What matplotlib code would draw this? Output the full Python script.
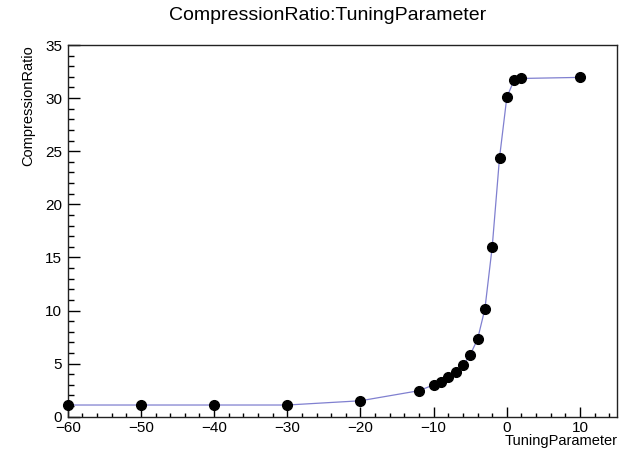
import matplotlib

matplotlib.use("Agg")
import matplotlib.pyplot as plt
from matplotlib.ticker import MultipleLocator

plt.rcParams["font.family"] = ["Liberation Sans", "DejaVu Sans"]

# values
tuning = [-60, -50, -40, -30, -20, -12, -10, -9, -8, -7, -6, -5, -4, -3, -2, -1, 0, 1, 2, 10]
ratio = [1.1, 1.1, 1.1, 1.1, 1.5, 2.45, 3.0, 3.3, 3.7, 4.25, 4.85, 5.85, 7.3, 10.15,
         16.0, 24.4, 30.1, 31.7, 31.85, 31.95]

fig = plt.figure(figsize=(6.21, 4.5), dpi=100)
ax = fig.add_axes([0.109, 0.074, 0.884, 0.826])

ax.plot(tuning, ratio, color="#8080d0", linewidth=0.9, zorder=2)
ax.plot(tuning, ratio, linestyle="none", marker="o", markersize=7,
        color="black", zorder=3, clip_on=False)

ax.set_xlim(-60, 15)
ax.set_ylim(0, 35)

ax.xaxis.set_major_locator(MultipleLocator(10))
ax.xaxis.set_minor_locator(MultipleLocator(2))
ax.yaxis.set_major_locator(MultipleLocator(5))
ax.yaxis.set_minor_locator(MultipleLocator(1))

ax.tick_params(axis="x", which="major", direction="in", length=7, width=1, pad=3, labelsize=11)
ax.tick_params(axis="x", which="minor", direction="in", length=3, width=1)
ax.tick_params(axis="y", which="major", direction="in", length=8.6, width=1, pad=4, labelsize=11)
ax.tick_params(axis="y", which="minor", direction="in", length=4.3, width=1)

for s in ax.spines.values():
    s.set_linewidth(1)
    s.set_color("#222222")

fig.text(0.528, 0.966, "CompressionRatio:TuningParameter", ha="center", va="center", fontsize=14)
fig.text(0.045, 0.9, "CompressionRatio", rotation=90, ha="center", va="top", fontsize=10.5)
fig.text(0.994, 0.02, "TuningParameter", ha="right", va="center", fontsize=10.5)

fig.savefig("out.png", dpi=100)
